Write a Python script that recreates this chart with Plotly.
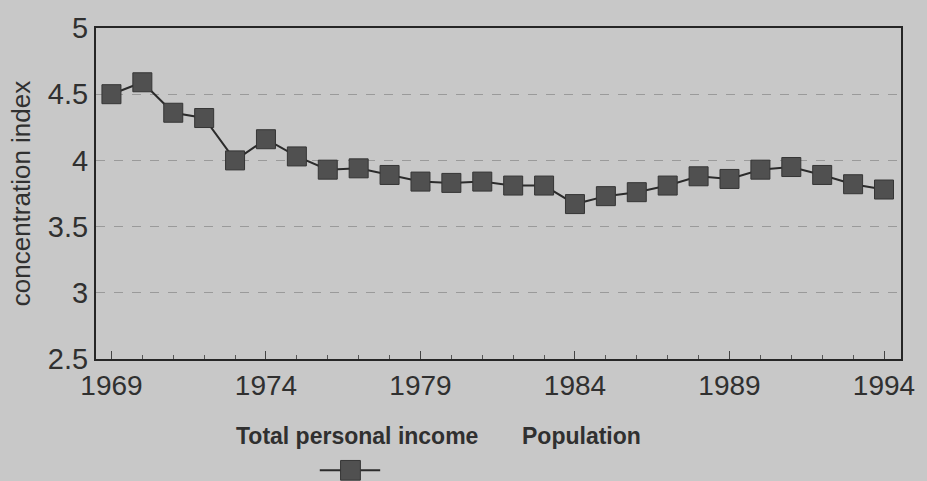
import plotly.graph_objects as go

years = list(range(1969, 1995))
income = [4.50, 4.59, 4.36, 4.32, 4.00, 4.16, 4.03, 3.93, 3.94, 3.89, 3.84, 3.83, 3.84,
          3.81, 3.81, 3.67, 3.73, 3.76, 3.81, 3.88, 3.86, 3.93, 3.95, 3.89, 3.82, 3.78]
x_tickvals = [1969, 1974, 1979, 1984, 1989, 1994]
x_ticktext = ["1969", "1974", "1979", "1984", "1989", "1994"]
y_ticks = [2.5, 3, 3.5, 4, 4.5, 5]
y_ticktext = ["2.5", "3", "3.5", "4", "4.5", "5"]
legend_labels = ["Total personal income", "Population"]

font_family = "Liberation Sans, Arial, sans-serif"
bg = "#c8c8c8"
ink = "#303030"

# plot-area geometry in pixels (used only to place legend items)
W, H = 927, 481
L, R, T, B = 96, 18, 23, 122
pw, ph = W - L - R, H - T - B


def px(x):
    return (x - L) / pw


def py(y):
    return (H - B - y) / ph


fig = go.Figure()
fig.add_trace(go.Scatter(
    x=years, y=income, mode="lines+markers", name=legend_labels[0],
    line=dict(color="#2b2b2b", width=2),
    marker=dict(symbol="square", size=19, color="#505050",
                line=dict(color="#353535", width=1)),
    showlegend=False,
))

fig.update_layout(
    width=W, height=H,
    margin=dict(l=L, r=R, t=T, b=B),
    paper_bgcolor=bg, plot_bgcolor=bg,
    font=dict(family=font_family, color=ink),
    xaxis=dict(
        range=[1968.5, 1994.55],
        tickmode="array", tickvals=x_tickvals, ticktext=x_ticktext,
        ticks="inside", ticklen=8, tickwidth=1, tickcolor="#444444",
        minor=dict(dtick=1, tick0=1969, ticks="inside", ticklen=4, tickcolor="#555555", showgrid=False),
        showgrid=False, zeroline=False,
        showline=True, linecolor="#262626", linewidth=2, mirror=True,
        tickfont=dict(size=28, color=ink),
    ),
    yaxis=dict(
        range=[2.5, 5], tickvals=y_ticks, ticktext=y_ticktext,
        ticks="", showgrid=True, gridcolor="#9a9a9a", griddash="dash", gridwidth=1,
        zeroline=False,
        showline=True, linecolor="#262626", linewidth=2, mirror=True,
        tickfont=dict(size=29, color=ink),
        title=dict(text="concentration index", font=dict(size=26, color=ink), standoff=10),
    ),
)

# legend: labels above the key, as in the original
fig.add_annotation(x=px(360), y=py(437), xref="paper", yref="paper",
                   text="<b>%s</b>" % legend_labels[0], showarrow=False,
                   font=dict(size=23, color=ink), xanchor="center", yanchor="middle")
fig.add_annotation(x=px(586), y=py(437), xref="paper", yref="paper",
                   text="<b>%s</b>" % legend_labels[1], showarrow=False,
                   font=dict(size=23, color=ink), xanchor="center", yanchor="middle")
fig.add_shape(type="line", xref="paper", yref="paper",
              x0=px(322), x1=px(383), y0=py(472), y1=py(472),
              line=dict(color="#2b2b2b", width=2))
fig.add_shape(type="rect", xref="paper", yref="paper",
              x0=px(343), x1=px(363), y0=py(482), y1=py(462),
              fillcolor="#505050", line=dict(color="#353535", width=1))

fig.write_html("out.html", config={"displayModeBar": False})

# remove the default page margin so the figure fills the window
with open("out.html", encoding="utf-8") as f:
    html = f.read()
html = html.replace("<head>", "<head><style>html,body{margin:0;padding:0;overflow:hidden;}</style>", 1)
with open("out.html", "w", encoding="utf-8") as f:
    f.write(html)
